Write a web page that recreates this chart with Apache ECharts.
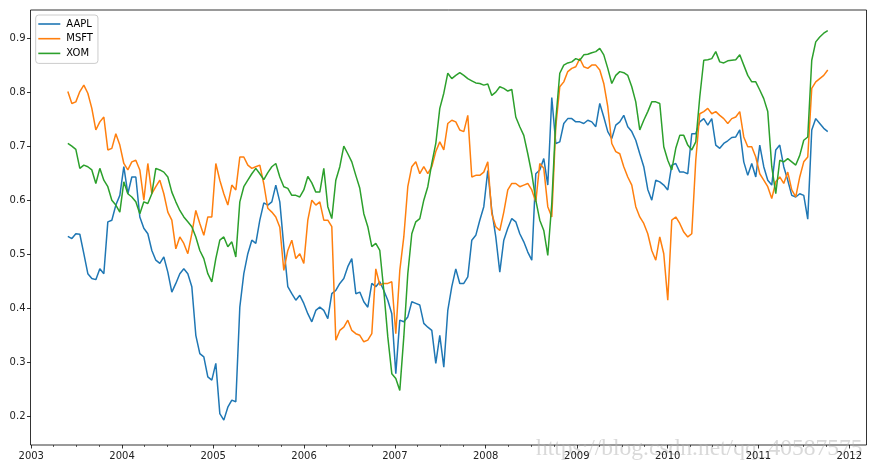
<!DOCTYPE html>
<html><head><meta charset="utf-8">
<script src="https://cdn.jsdelivr.net/npm/echarts@6/dist/echarts.min.js"></script>
<style>html,body{margin:0;padding:0;background:#fff}#c{width:877px;height:469px}</style>
</head><body><div id="c"></div>
<script>
const seriesNames = ['AAPL', 'MSFT', 'XOM'];
const seriesColors = ['#1f77b4', '#ff7f0e', '#2ca02c'];
// samples at a regular date step
const sampleStart = '2003-05-28';
const sampleStepDays = 16.07;

const aapl = [0.533,0.529,0.538,0.537,0.501,0.464,0.455,0.453,0.473,0.464,
0.56,0.563,0.591,0.609,0.662,0.612,0.643,0.643,0.569,0.548,
0.538,0.507,0.489,0.483,0.495,0.467,0.43,0.446,0.464,0.473,
0.464,0.44,0.35,0.316,0.31,0.273,0.267,0.298,0.205,0.193,
0.217,0.23,0.227,0.402,0.464,0.501,0.526,0.52,
0.563,0.595,0.591,0.597,0.628,0.597,0.514,0.44,0.427,0.415,
0.424,0.409,0.39,0.375,0.396,0.402,0.396,0.381,0.427,0.433,
0.446,0.455,0.477,0.492,0.427,0.43,0.412,0.402,0.446,0.44,
0.449,0.433,0.415,0.39,0.279,0.378,0.375,0.384,0.412,0.409,
0.406,0.372,0.365,0.359,0.298,0.35,0.291,0.396,
0.44,0.473,0.446,0.446,0.458,0.526,0.535,0.563,0.588,0.655,
0.581,0.532,0.467,0.526,0.548,0.566,0.56,0.538,0.523,0.504,
0.489,0.649,0.656,0.677,0.628,0.79,0.705,0.708,0.742,0.751,
0.751,0.745,0.745,0.742,0.748,0.745,0.736,0.779,0.754,0.727,
0.714,0.739,0.745,0.757,0.736,0.727,0.711,
0.686,0.662,0.62,0.6,0.637,0.634,0.628,0.619,0.665,0.668,
0.652,0.652,0.649,0.723,0.723,0.745,0.751,0.739,0.751,0.702,
0.696,0.705,0.71,0.716,0.717,0.73,0.671,0.646,0.668,0.643,
0.702,0.662,0.637,0.628,0.693,0.702,0.662,0.637,0.609,0.606,
0.612,0.609,0.565,0.73,0.751,0.742,0.733,0.727];

const msft = [0.801,0.779,0.782,0.801,0.813,0.798,0.77,0.73,0.745,0.754,
0.693,0.696,0.723,0.702,0.668,0.656,0.671,0.674,0.656,0.6,
0.668,0.612,0.625,0.637,0.612,0.578,0.563,0.51,0.532,0.52,
0.501,0.538,0.581,0.557,0.535,0.569,0.569,0.668,0.637,0.612,
0.591,0.628,0.619,0.68,0.68,0.665,0.659,0.662,
0.665,0.63,0.585,0.578,0.569,0.55,0.47,0.507,0.526,0.492,
0.501,0.483,0.563,0.6,0.591,0.597,0.563,0.563,0.551,0.341,
0.359,0.365,0.378,0.359,0.353,0.35,0.338,0.341,0.353,0.473,
0.443,0.446,0.446,0.449,0.353,0.47,0.532,0.625,0.662,0.671,
0.649,0.662,0.649,0.662,0.69,0.708,0.693,0.742,
0.748,0.745,0.73,0.727,0.757,0.643,0.646,0.646,0.652,0.671,
0.575,0.551,0.544,0.578,0.619,0.631,0.631,0.625,0.628,0.631,
0.619,0.597,0.668,0.659,0.588,0.569,0.736,0.81,0.819,0.838,
0.844,0.847,0.862,0.847,0.844,0.85,0.85,0.841,0.816,0.773,
0.705,0.69,0.686,0.662,0.643,0.628,0.588,
0.569,0.557,0.538,0.507,0.489,0.532,0.501,0.415,0.563,0.569,
0.557,0.541,0.532,0.538,0.674,0.76,0.764,0.77,0.76,0.764,
0.757,0.751,0.742,0.751,0.754,0.764,0.717,0.699,0.699,0.68,
0.649,0.637,0.625,0.603,0.634,0.643,0.631,0.652,0.619,0.606,
0.643,0.671,0.68,0.807,0.819,0.825,0.831,0.841];

const xom = [0.705,0.7,0.694,0.659,0.665,0.662,0.656,0.631,0.659,0.637,
0.625,0.6,0.591,0.578,0.634,0.612,0.606,0.597,0.575,0.597,
0.594,0.612,0.659,0.656,0.652,0.643,0.615,0.597,0.581,0.569,
0.56,0.551,0.532,0.507,0.492,0.464,0.449,0.492,0.526,0.532,
0.514,0.523,0.495,0.597,0.625,0.637,0.649,0.659,
0.649,0.638,0.651,0.662,0.668,0.643,0.625,0.622,0.609,0.609,
0.606,0.619,0.644,0.632,0.615,0.615,0.659,0.588,0.566,0.637,
0.662,0.7,0.686,0.671,0.646,0.622,0.575,0.551,0.514,0.52,
0.507,0.433,0.347,0.279,0.27,0.248,0.347,0.464,0.538,0.56,
0.566,0.6,0.625,0.668,0.705,0.77,0.798,0.835,
0.825,0.831,0.836,0.831,0.825,0.821,0.817,0.816,0.813,0.815,
0.794,0.8,0.81,0.807,0.802,0.805,0.754,0.736,0.72,0.686,
0.649,0.6,0.563,0.544,0.498,0.594,0.748,0.835,0.85,0.854,
0.856,0.862,0.859,0.869,0.87,0.873,0.875,0.881,0.869,0.844,
0.816,0.831,0.838,0.836,0.831,0.81,0.782,
0.73,0.748,0.764,0.782,0.782,0.779,0.699,0.674,0.656,0.696,
0.72,0.72,0.702,0.693,0.708,0.791,0.859,0.86,0.862,0.875,
0.856,0.854,0.858,0.859,0.86,0.869,0.85,0.831,0.819,0.819,
0.804,0.788,0.764,0.662,0.612,0.674,0.671,0.677,0.671,0.665,
0.683,0.711,0.717,0.859,0.893,0.902,0.909,0.914];

const yearTicks = [2003, 2004, 2005, 2006, 2007, 2008, 2009, 2010, 2011, 2012];
const yTicks = [0.2, 0.3, 0.4, 0.5, 0.6, 0.7, 0.8, 0.9];
const xRange = ['2002-12-29', '2012-03-10'];
const yRange = [0.147, 0.952];
const watermark = 'https://blog.csdn.net/qq_40587575';

const DAY = 86400000;
const t0 = Date.parse(sampleStart + 'T00:00:00Z');
const dates = aapl.map((_, i) => t0 + i * sampleStepDays * DAY);
const valueSets = [aapl, msft, xom];
const majorTicks = yearTicks.map(y => Date.UTC(y, 0, 1));
const minorTicks = [];
yearTicks.forEach(y => { [3, 6, 9].forEach(m => minorTicks.push(Date.UTC(y, m, 1))); });
const xMin = Date.parse(xRange[0] + 'T00:00:00Z');
const xMax = Date.parse(xRange[1] + 'T00:00:00Z');

const FONT = 'DejaVu Sans';
const chart = echarts.init(document.getElementById('c'), null, {renderer: 'canvas'});
chart.setOption({
  animation: false,
  backgroundColor: '#ffffff',
  grid: {
    left: 30.5, right: 10.5, top: 10, bottom: 24,
    show: true, borderColor: '#000', borderWidth: 0.8,
    outerBoundsMode: 'none', containLabel: false
  },
  legend: {
    left: 35.7, top: 15, orient: 'vertical',
    data: seriesNames, icon: 'rect', itemWidth: 22, itemHeight: 1.6,
    itemGap: 2.7, padding: [3, 5, 4, 2.6],
    backgroundColor: 'rgba(255,255,255,0.8)', borderColor: '#cccccc',
    borderWidth: 1, borderRadius: 3,
    textStyle: {fontFamily: FONT, fontSize: 10, color: '#000', lineHeight: 12, padding: [0, 0, 0, 1]}
  },
  xAxis: [{
    type: 'value', min: xMin, max: xMax, gridIndex: 0, scale: true,
    axisLine: {show: false},
    splitLine: {show: false},
    axisTick: {show: true, length: 3.5, customValues: majorTicks, lineStyle: {color: '#000', width: 0.8}},
    axisLabel: {show: true, customValues: majorTicks, margin: 6, fontFamily: FONT, fontSize: 10, color: '#222',
      formatter: v => String(new Date(v).getUTCFullYear())}
  }, {
    type: 'value', min: xMin, max: xMax, gridIndex: 0, position: 'bottom', scale: true,
    axisLine: {show: false}, splitLine: {show: false}, axisLabel: {show: false},
    axisTick: {show: true, length: 2, customValues: minorTicks, lineStyle: {color: '#000', width: 0.6}}
  }],
  yAxis: {
    type: 'value', min: yRange[0], max: yRange[1],
    axisLine: {show: false}, splitLine: {show: false},
    axisTick: {show: true, length: 3.5, customValues: yTicks, lineStyle: {color: '#000', width: 0.8}},
    axisLabel: {customValues: yTicks, margin: 5, fontFamily: FONT, fontSize: 10, color: '#222',
      formatter: v => v.toFixed(1)}
  },
  series: seriesNames.map((name, k) => ({
    name, type: 'line', xAxisIndex: 0, showSymbol: false, symbol: 'none',
    color: seriesColors[k],
    lineStyle: {width: 1.5, color: seriesColors[k]},
    data: dates.map((d, i) => [d, valueSets[k][i]])
  })),
  graphic: [{
    type: 'text', left: 536, top: 437, z: 0, silent: true,
    style: {text: watermark, font: '23.5px "Liberation Serif"', fill: 'rgba(180,180,180,0.5)'}
  }]
});
</script></body></html>
